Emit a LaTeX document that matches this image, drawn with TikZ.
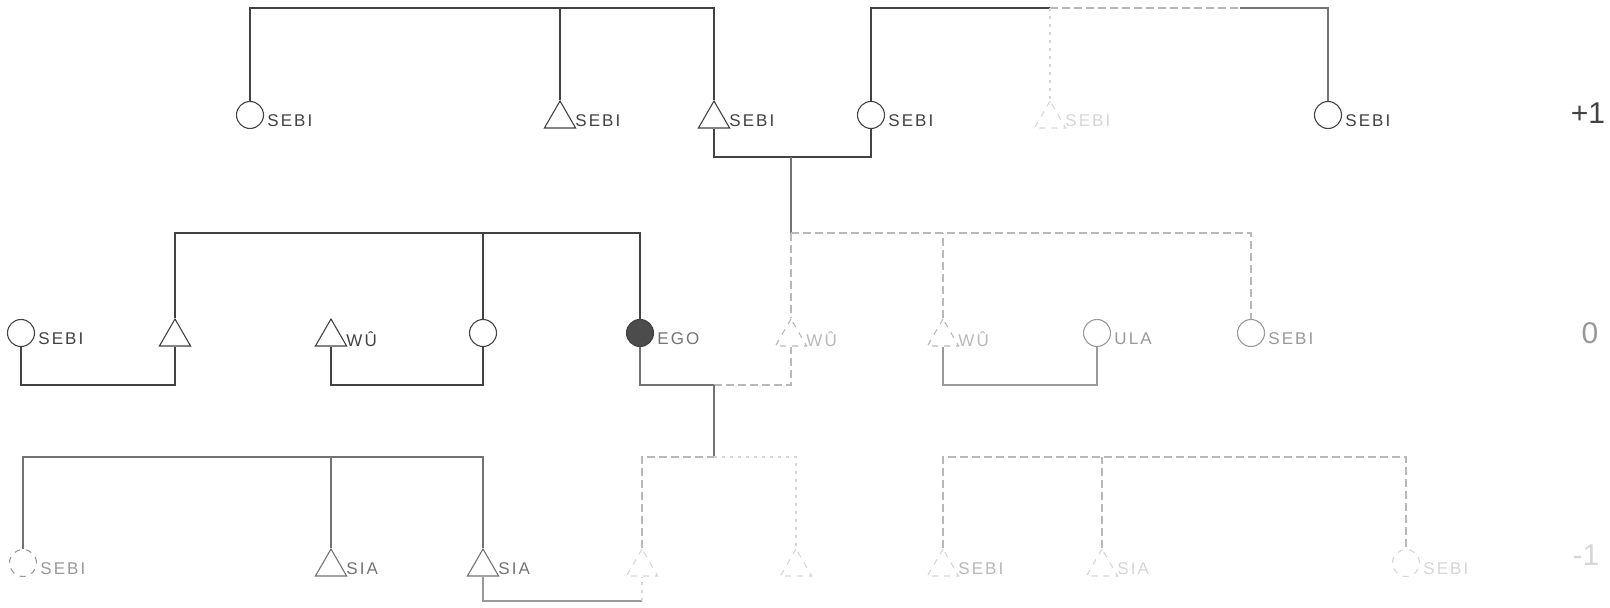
\documentclass[tikz,border=0pt]{standalone}
\usepackage{fontspec}
\newfontfamily\labfont[LetterSpace=12]{Liberation Sans}
\newfontfamily\rowfont{Liberation Sans}
\usetikzlibrary{shapes.geometric}
\colorlet{ink}{black!74}
\colorlet{mid}{black!55}
\colorlet{lite}{black!40}
\colorlet{faint}{black!28}
\colorlet{vfaint}{black!16}
\tikzset{
  lnk/.style={draw=ink, line width=0.55pt},
  lnkm/.style={draw=mid, line width=0.55pt},
  lnkl/.style={draw=lite, line width=0.55pt},
  lnkf/.style={draw=faint, line width=0.55pt, dash pattern=on 4pt off 2pt},
  lnkv/.style={draw=vfaint, line width=0.55pt, dash pattern=on 1.5pt off 2.5pt},
  fem/.style={circle, minimum size=13.5pt, inner sep=0pt, line width=0.55pt, draw=ink},
  mal/.style={regular polygon, regular polygon sides=3, minimum size=18pt, inner sep=0pt, line width=0.55pt, draw=ink},
  lab/.style={font=\labfont\fontsize{8.5}{9}\selectfont, inner sep=0pt},
  tagc/.style 2 args={label={[lab,text=#1,label distance=1.5pt,yshift=-3pt]east:#2}},
  tagt/.style 2 args={label={[lab,text=#1,label distance=2pt,yshift=-1pt]east:#2}},
  rowlab/.style={font=\rowfont\fontsize{15}{16}\selectfont, inner sep=0pt}
}
\begin{document}
\begin{tikzpicture}[x=0.5pt,y=-0.5pt]
\useasboundingbox (0,0) rectangle (1610,608);
% levels
\coordinate (T) at (0,8);
\coordinate (M1) at (0,157);
\coordinate (S0) at (0,233);
\coordinate (M0) at (0,385);
\coordinate (Sm) at (0,457);
\coordinate (Mm) at (0,601);
% generation +1
\node[fem, tagc={ink}{SEBI}] (A1) at (250,115) {};
\node[mal, tagt={ink}{SEBI}] (A2) at (560,119) {};
\node[mal, tagt={ink}{SEBI}] (A3) at (714,119) {};
\node[fem, tagc={ink}{SEBI}] (A4) at (871,115) {};
\node[mal, draw=vfaint, dashed, tagt={vfaint}{SEBI}] (A5) at (1050,119) {};
\node[fem, tagc={ink}{SEBI}] (A6) at (1328,115) {};
\node[rowlab, text=ink] (G1) at (1588,113) {+1};
\coordinate (tr) at (1240,8);
\coordinate (c1) at (791,157);
\draw[lnk] (A1.north) |- (A3.north |- T) -- (A3.north);
\draw[lnk] (A2.north) -- (A2.north |- T);
\draw[lnk] (A4.north) |- (A5.north |- T);
\draw[lnkf] (A5.north |- T) -- (tr);
\draw[lnkm] (tr) -| (A6.north);
\draw[lnkv] (A5.north |- T) -- (A5.north);
\draw[lnk] (A3.south) |- (A4.south |- M1) -- (A4.south);
\draw[lnkm] (c1) -- (c1 |- S0);
% generation 0
\node[fem, tagc={ink}{SEBI}] (B1) at (21,333) {};
\node[mal] (B2) at (175,337) {};
\node[mal, tagt={ink}{WÛ}] (B3) at (331,337) {};
\node[fem] (B4) at (483,333) {};
\node[fem, fill=black!70, draw=black!75, tagc={mid}{EGO}] (B5) at (640,333) {};
\node[mal, draw=faint, dashed, tagt={faint}{WÛ}] (B6) at (791,337) {};
\node[mal, draw=faint, dashed, tagt={faint}{WÛ}] (B7) at (943,337) {};
\node[fem, draw=lite, tagc={lite}{ULA}] (B8) at (1097,333) {};
\node[fem, draw=lite, tagc={lite}{SEBI}] (B9) at (1251,333) {};
\node[rowlab, text=lite] (G0) at (1590,333) {0};
\coordinate (c0) at (714,385);
\draw[lnk] (B2.north) |- (B5.north |- S0) -- (B5.north);
\draw[lnk] (B4.north) -- (B4.north |- S0);
\draw[lnkf] (c1 |- S0) -- (B9.north |- S0) -- (B9.north);
\draw[lnkf] (c1 |- S0) -- (B6.north);
\draw[lnkf] (B7.north) -- (B7.north |- S0);
\draw[lnk] (B1.south) |- (B2.south |- M0) -- (B2.south);
\draw[lnk] (B3.south) |- (B4.south |- M0) -- (B4.south);
\draw[lnkm] (B5.south) |- (c0);
\draw[lnkf] (c0) -| (B6.south);
\draw[lnkm] (c0) -- (c0 |- Sm);
\draw[lnkl] (B7.south) |- (B8.south |- M0) -- (B8.south);
% generation -1
\node[fem, draw=lite, dashed, tagc={lite}{SEBI}] (C1) at (23,563) {};
\node[mal, draw=mid, tagt={mid}{SIA}] (C2) at (331,567) {};
\node[mal, draw=mid, tagt={mid}{SIA}] (C3) at (483,567) {};
\node[mal, draw=vfaint, dashed] (C4) at (642,567) {};
\node[mal, draw=vfaint, dashed] (C5) at (796,567) {};
\node[mal, draw=vfaint, dashed, tagt={faint}{SEBI}] (C6) at (943,567) {};
\node[mal, draw=vfaint, dashed, tagt={vfaint}{SIA}] (C7) at (1102,567) {};
\node[fem, draw=vfaint, dashed, tagc={vfaint}{SEBI}] (C8) at (1406,563) {};
\node[rowlab, text=vfaint] (Gm) at (1586,555) {-1};
\draw[lnkm] (C1.north) |- (C3.north |- Sm) -- (C3.north);
\draw[lnkm] (C2.north) -- (C2.north |- Sm);
\draw[lnkf] (C4.north) |- (c0 |- Sm);
\draw[lnkv] (c0 |- Sm) -| (C5.north);
\draw[lnkl] (C3.south) |- (C4.south |- Mm);
\draw[lnkv] (C4.south |- Mm) -- (C4.south);
\draw[lnkf] (C6.north) |- (C8.north |- Sm) -- (C8.north);
\draw[lnkf] (C7.north) -- (C7.north |- Sm);
\end{tikzpicture}
\end{document}
